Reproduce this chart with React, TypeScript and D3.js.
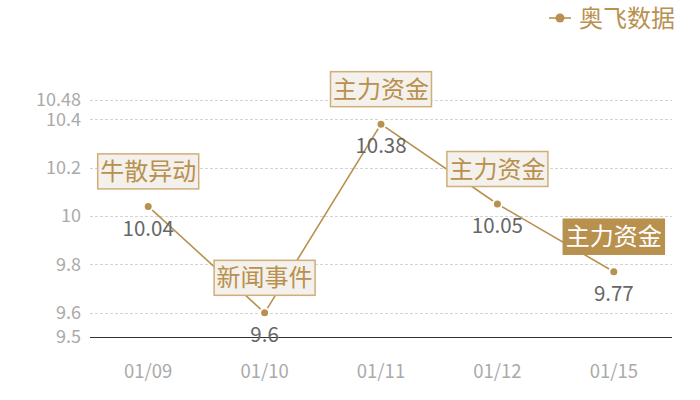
import React from "react";
import * as d3 from "d3";

const categories = ["01/09", "01/10", "01/11", "01/12", "01/15"];
const values = [10.04, 9.6, 10.38, 10.05, 9.77];
const notes = ["牛散异动", "新闻事件", "主力资金", "主力资金", "主力资金"];
const highlighted = [false, false, false, false, true];
const yTicks = [9.5, 9.6, 9.8, 10, 10.2, 10.4, 10.48];
const seriesName = "奥飞数据";

const W = 700;
const H = 400;
const left = 90;
const right = 672;
const top = 100;
const bottom = 337;
const gold = "#b8914f";
const font = "'Noto Sans CJK SC', 'Noto Sans', sans-serif";

export default function App() {
  const x = d3.scaleBand<string>().domain(categories).range([left, right]);
  const y = d3.scaleLinear().domain([9.5, 10.48]).range([bottom, top]);
  const cx = (c: string) => (x(c) as number) + x.bandwidth() / 2;
  const line = d3
    .line<number>()
    .x((_, i) => cx(categories[i]))
    .y((v) => y(v));

  const boxW = 101;
  const boxH = 35;

  return (
    <svg
      width={W}
      height={H}
      style={{ position: "absolute", left: 0, top: 0, fontFamily: font }}
    >
      <rect width={W} height={H} fill="#fff" />
      {yTicks.map((t) =>
        t === 9.5 ? null : (
          <line
            key={t}
            x1={left}
            x2={right}
            y1={Math.round(y(t)) + 0.5}
            y2={Math.round(y(t)) + 0.5}
            stroke="#d4d4d4"
            strokeDasharray="3,2"
          />
        )
      )}
      <line
        x1={left}
        x2={right}
        y1={Math.round(y(9.5)) + 0.5}
        y2={Math.round(y(9.5)) + 0.5}
        stroke="#333"
        strokeWidth={1}
      />
      {yTicks.map((t) => (
        <text
          key={"l" + t}
          x={81}
          y={y(t)}
          dy="0.35em"
          textAnchor="end"
          fill="#aaa"
          fontSize={18}
        >
          {String(t)}
        </text>
      ))}
      {categories.map((c) => (
        <text key={c} x={cx(c)} y={372} dy="0.35em" textAnchor="middle" fill="#aaa" fontSize={18.5}>
          {c}
        </text>
      ))}
      <path d={line(values) || ""} fill="none" stroke={gold} strokeWidth={1.6} />
      {values.map((v, i) => (
        <circle
          key={"c" + i}
          cx={cx(categories[i])}
          cy={y(v)}
          r={4.5}
          fill={gold}
          stroke="#fff"
          strokeWidth={2}
        />
      ))}
      {values.map((v, i) => (
        <text
          key={"v" + i}
          x={cx(categories[i])}
          y={y(v) + 22}
          dy="0.35em"
          textAnchor="middle"
          fill="#666"
          fontSize={20.5}
        >
          {String(v)}
        </text>
      ))}
      {values.map((v, i) => {
        const bx = cx(categories[i]);
        const by = y(v) - 35;
        const hl = highlighted[i];
        return (
          <g key={"b" + i}>
            <rect
              x={bx - boxW / 2}
              y={by - boxH / 2}
              width={boxW}
              height={boxH}
              fill={hl ? gold : "#f4f0eb"}
              stroke={hl ? gold : "#cfae7a"}
              strokeWidth={1.5}
            />
            <text
              x={bx}
              y={by}
              dy="0.36em"
              textAnchor="middle"
              fill={hl ? "#fff" : gold}
              fontSize={24}
            >
              {notes[i]}
            </text>
          </g>
        );
      })}
      <line x1={549} x2={571} y1={18} y2={18} stroke={gold} strokeWidth={1.6} />
      <circle cx={560} cy={18} r={4.5} fill={gold} />
      <text x={579} y={18} dy="0.36em" fill={gold} fontSize={24}>
        {seriesName}
      </text>
    </svg>
  );
}
